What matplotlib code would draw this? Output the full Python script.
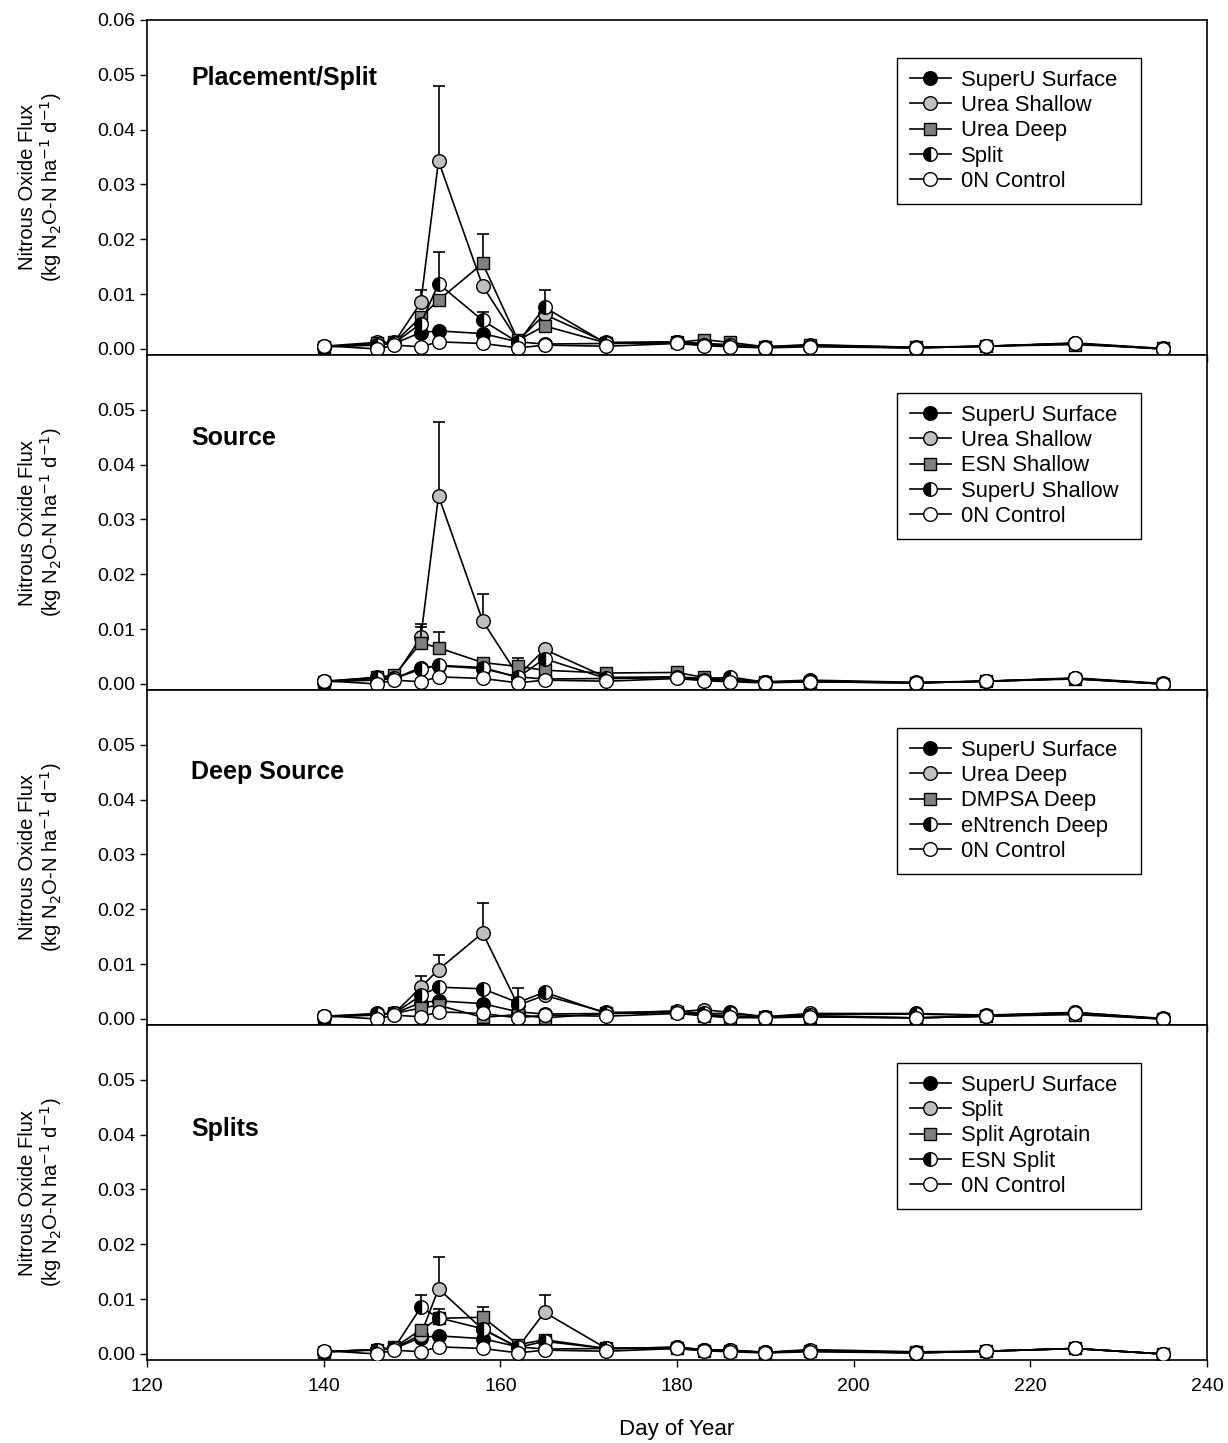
import numpy as np
import matplotlib
matplotlib.use('Agg')
import matplotlib.pyplot as plt

plt.rcParams['font.family'] = ['Liberation Sans', 'DejaVu Sans']

# sampling days
days = [140, 146, 148, 151, 153, 158, 162, 165, 172, 180, 183, 186, 190, 195, 207, 215, 225, 235]

# N2O-N flux (kg ha-1 d-1) per treatment
superu_surface = [0.0004, 0.0007, 0.0010, 0.0030, 0.0033, 0.0028, 0.0013, 0.0009, 0.0010, 0.0012,
                  0.0008, 0.0006, 0.0003, 0.0006, 0.0002, 0.0005, 0.0010, 0.0000]
urea_shallow = [0.0005, 0.0012, 0.0012, 0.0085, 0.0343, 0.0115, 0.0015, 0.0063, 0.0012, 0.0013,
                0.0010, 0.0008, 0.0004, 0.0007, 0.0003, 0.0005, 0.0011, 0.0001]
urea_deep = [0.0004, 0.0010, 0.0012, 0.0058, 0.0089, 0.0156, 0.0016, 0.0042, 0.0011, 0.0012,
             0.0017, 0.0012, 0.0004, 0.0008, 0.0003, 0.0005, 0.0008, 0.0001]
split = [0.0004, 0.0008, 0.0011, 0.0046, 0.0119, 0.0052, 0.0012, 0.0076, 0.0010, 0.0012,
         0.0008, 0.0007, 0.0003, 0.0006, 0.0002, 0.0005, 0.0010, 0.0000]
control = [0.0006, 0.0000, 0.0007, 0.0004, 0.0013, 0.0010, 0.0002, 0.0007, 0.0005, 0.0010,
           0.0006, 0.0004, 0.0002, 0.0004, 0.0002, 0.0005, 0.0010, 0.0000]
esn_shallow = [0.0004, 0.0012, 0.0016, 0.0075, 0.0066, 0.0039, 0.0032, 0.0025, 0.0020, 0.0021,
               0.0012, 0.0009, 0.0003, 0.0004, 0.0002, 0.0005, 0.0009, 0.0000]
superu_shallow = [0.0004, 0.0010, 0.0010, 0.0027, 0.0034, 0.0030, 0.0012, 0.0046, 0.0010, 0.0012,
                  0.0008, 0.0013, 0.0003, 0.0005, 0.0002, 0.0005, 0.0010, 0.0000]
urea_deep2 = [0.0005, 0.0010, 0.0010, 0.0058, 0.0090, 0.0157, 0.0025, 0.0043, 0.0012, 0.0013,
              0.0017, 0.0012, 0.0004, 0.0010, 0.0010, 0.0007, 0.0012, 0.0001]
dmpsa_deep = [0.0004, 0.0008, 0.0010, 0.0020, 0.0025, 0.0003, 0.0008, 0.0002, 0.0010, 0.0012,
              0.0006, 0.0002, 0.0003, 0.0004, 0.0002, 0.0005, 0.0008, 0.0000]
entrench_deep = [0.0004, 0.0009, 0.0010, 0.0043, 0.0058, 0.0055, 0.0030, 0.0049, 0.0010, 0.0015,
                 0.0010, 0.0010, 0.0004, 0.0008, 0.0009, 0.0006, 0.0012, 0.0000]
split4 = [0.0004, 0.0008, 0.0011, 0.0035, 0.0119, 0.0045, 0.0012, 0.0076, 0.0010, 0.0012,
          0.0008, 0.0007, 0.0003, 0.0006, 0.0002, 0.0005, 0.0010, 0.0000]
split_agrotain = [0.0004, 0.0008, 0.0012, 0.0044, 0.0065, 0.0067, 0.0017, 0.0026, 0.0010, 0.0010,
                  0.0006, 0.0006, 0.0002, 0.0006, 0.0003, 0.0005, 0.0010, 0.0000]
esn_split = [0.0004, 0.0008, 0.0011, 0.0085, 0.0066, 0.0046, 0.0012, 0.0023, 0.0010, 0.0012,
             0.0007, 0.0007, 0.0003, 0.0008, 0.0004, 0.0005, 0.0010, 0.0000]

# upper standard errors, {day: se}
err_urea_shallow1 = {151: 0.0023, 153: 0.0137}
err_urea_deep1 = {158: 0.0054}
err_split1 = {153: 0.0057, 158: 0.0016, 165: 0.0032}
err_urea_shallow2 = {151: 0.0024, 153: 0.0135, 158: 0.0050}
err_esn_shallow2 = {151: 0.0029, 153: 0.0028, 158: 0.0005, 162: 0.0016}
err_urea_deep3 = {151: 0.0021, 153: 0.0027, 158: 0.0054}
err_entrench3 = {162: 0.0026}
err_split4 = {153: 0.0057, 165: 0.0032}
err_agrotain4 = {158: 0.0019}
err_esn_split4 = {151: 0.0023, 153: 0.0016}

titles = ['Placement/Split', 'Source', 'Deep Source', 'Splits']
title_y = [0.0494, 0.0449, 0.0450, 0.0410]

# marker styles: filled black, light grey, dark grey square, half black, white
styles = [
    dict(marker='o', markerfacecolor='black', markersize=9.8),
    dict(marker='o', markerfacecolor='#c0c0c0', markersize=9.8),
    dict(marker='s', markerfacecolor='#808080', markersize=8.6),
    dict(marker='o', markerfacecolor='black', fillstyle='left', markerfacecoloralt='white',
         markersize=9.8),
    dict(marker='o', markerfacecolor='white', markersize=9.8),
]

panels = [
    [('SuperU Surface', superu_surface, {}), ('Urea Shallow', urea_shallow, err_urea_shallow1),
     ('Urea Deep', urea_deep, err_urea_deep1), ('Split', split, err_split1), ('0N Control', control, {})],
    [('SuperU Surface', superu_surface, {}), ('Urea Shallow', urea_shallow, err_urea_shallow2),
     ('ESN Shallow', esn_shallow, err_esn_shallow2), ('SuperU Shallow', superu_shallow, {}),
     ('0N Control', control, {})],
    [('SuperU Surface', superu_surface, {}), ('Urea Deep', urea_deep2, err_urea_deep3),
     ('DMPSA Deep', dmpsa_deep, {}), ('eNtrench Deep', entrench_deep, err_entrench3),
     ('0N Control', control, {})],
    [('SuperU Surface', superu_surface, {}), ('Split', split4, err_split4),
     ('Split Agrotain', split_agrotain, err_agrotain4), ('ESN Split', esn_split, err_esn_split4),
     ('0N Control', control, {})],
]

fig = plt.figure(figsize=(12.28, 14.43), dpi=100)
left, width = 147 / 1228, 1060 / 1228
top = 1 - 20 / 1443
h = 335 / 1443

for i, series in enumerate(panels):
    ax = fig.add_axes([left, top - (i + 1) * h, width, h])
    for k, (name, vals, err) in enumerate(series):
        z = 3 + 2 * k
        if err:
            ex = list(err.keys())
            ey = [vals[days.index(d)] for d in ex]
            ax.errorbar(ex, ey, yerr=[np.zeros(len(ex)), list(err.values())], fmt='none',
                        ecolor='black', elinewidth=1.2, capsize=4.6, capthick=1.2, zorder=z)
        ax.plot(days, vals, color='black', lw=1.2, markeredgecolor='black',
                markeredgewidth=1.0, label=name, zorder=z + 1, **styles[k])
    ax.set_xlim(120, 240)
    ax.set_ylim(-0.0011, 0.06)
    ax.set_xticks(np.arange(120, 241, 20))
    if i == 0:
        ax.set_yticks(np.arange(0, 0.061, 0.01))
    else:
        ax.set_yticks(np.arange(0, 0.051, 0.01))
    ax.yaxis.set_major_formatter(matplotlib.ticker.FormatStrFormatter('%.2f'))
    ax.tick_params(direction='out', length=5, width=1, labelsize=14)
    if i < 3:
        ax.tick_params(axis='x', labelbottom=False)
    else:
        ax.tick_params(axis='x', pad=8)
        ax.set_xlabel('Day of Year', fontsize=16, labelpad=17)
    for s in ax.spines.values():
        s.set_linewidth(1.2)
    ax.set_ylabel('Nitrous Oxide Flux\n(kg N$_2$O-N ha$^{-1}$ d$^{-1}$)', fontsize=14.5,
                  linespacing=1.05, labelpad=24)
    ax.text(125.0, title_y[i], titles[i], fontsize=18, fontweight='bold', va='center')
    leg = ax.legend(loc='upper left', bbox_to_anchor=(0.708, 0.888, 0.230, 0.0), mode='expand',
                    fontsize=15.8, frameon=True, fancybox=False, framealpha=1, edgecolor='black',
                    handlelength=1.9, handletextpad=0.45, labelspacing=0.2, borderpad=0.55,
                    borderaxespad=0)
    leg.get_frame().set_linewidth(1.0)

plt.savefig('out.png', dpi=100)
